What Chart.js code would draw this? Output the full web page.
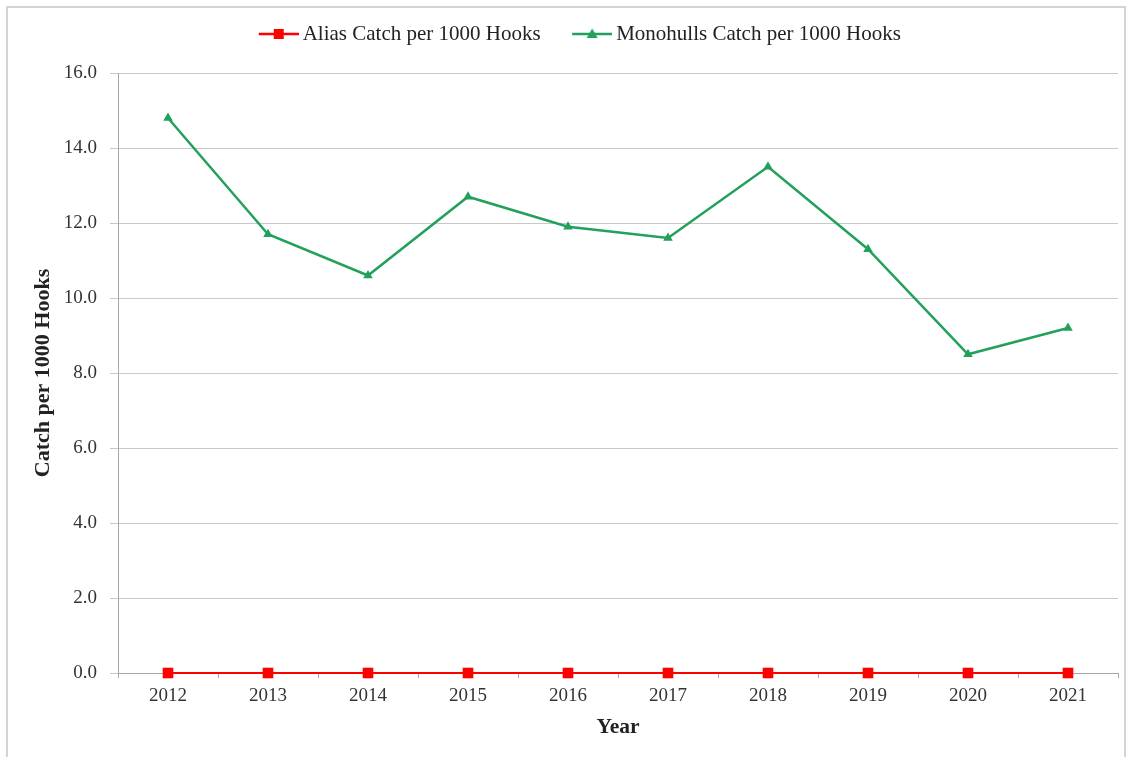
<!DOCTYPE html>
<html>
<head>
<meta charset="utf-8">
<script src="https://cdn.jsdelivr.net/npm/chart.js@4.4.1/dist/chart.umd.min.js"></script>
<style>
  html, body { margin: 0; padding: 0; background: #ffffff; }
  #wrap { position: relative; width: 1130px; height: 757px; overflow: hidden; background: #fff; }
  #frame { position: absolute; left: 6px; top: 6px; width: 1120px; height: 800px; border: 2px solid #d4d4d4; box-sizing: border-box; }
  #c { position: absolute; left: 0; top: 0; }
</style>
</head>
<body>
<div id="wrap">
  <div id="frame"></div>
  <canvas id="c" width="1130" height="757"></canvas>
</div>
<script>
// ---- data ----
const years = ['2012', '2013', '2014', '2015', '2016', '2017', '2018', '2019', '2020', '2021'];
const aliasCatch = [0, 0, 0, 0, 0, 0, 0, 0, 0, 0];
const monohullsCatch = [14.8, 11.7, 10.6, 12.7, 11.9, 11.6, 13.5, 11.3, 8.5, 9.2];
const seriesNames = ['Alias Catch per 1000 Hooks', 'Monohulls Catch per 1000 Hooks'];
const yTicks = [0, 2, 4, 6, 8, 10, 12, 14, 16];

const RED = '#ff0000';
const GREEN = '#22a05c';
const FONT = "'Liberation Serif', 'Times New Roman', serif";

const BOX_W = 55;
function legendImage(color, shape) {
  const W = BOX_W + 13, H = 16;
  const cv = document.createElement('canvas');
  cv.width = W; cv.height = H;
  const ctx = cv.getContext('2d');
  ctx.strokeStyle = color; ctx.lineWidth = 2.5;
  ctx.beginPath(); ctx.moveTo(W - 40, H / 2); ctx.lineTo(W, H / 2); ctx.stroke();
  ctx.fillStyle = color;
  const cx = W - 20, cy = H / 2;
  if (shape === 'rect') {
    ctx.fillRect(cx - 5, cy - 5, 10, 10);
  } else {
    ctx.beginPath();
    ctx.moveTo(cx, cy - 5.5); ctx.lineTo(cx + 5.5, cy + 4); ctx.lineTo(cx - 5.5, cy + 4);
    ctx.closePath(); ctx.fill();
  }
  return cv;
}
const legendImgs = [legendImage(RED, 'rect'), legendImage(GREEN, 'triangle')];

new Chart(document.getElementById('c'), {
  type: 'line',
  data: {
    labels: years,
    datasets: [
      {
        label: seriesNames[0],
        data: aliasCatch,
        borderColor: RED,
        backgroundColor: RED,
        borderWidth: 2,
        pointStyle: 'rect',
        pointRadius: 7.5,
        pointBorderWidth: 0,
        tension: 0,
        clip: false
      },
      {
        label: seriesNames[1],
        data: monohullsCatch,
        borderColor: GREEN,
        backgroundColor: GREEN,
        borderWidth: 2.5,
        pointStyle: 'triangle',
        pointRadius: 5.5,
        pointBorderWidth: 0,
        tension: 0,
        clip: false
      }
    ]
  },
  options: {
    responsive: false,
    animation: false,
    devicePixelRatio: 1,
    layout: { padding: { top: 13.5, left: 20, right: 12, bottom: 0 } },
    plugins: {
      legend: {
        position: 'top',
        labels: {
          font: { family: FONT, size: 21 },
          color: '#222',
          padding: 10,
          usePointStyle: true,
          pointStyleWidth: BOX_W,
          generateLabels: (chart) => chart.data.datasets.map((ds, i) => ({
            text: ds.label,
            datasetIndex: i,
            pointStyle: legendImgs[i],
            fillStyle: ds.backgroundColor,
            strokeStyle: ds.borderColor,
            lineWidth: 0,
            hidden: false,
            fontColor: '#222'
          }))
        }
      },
      title: {
        display: true,
        text: '',
        weight: 500,
        font: { size: 10 },
        padding: { top: 6.5, bottom: 0 }
      },
      tooltip: { enabled: false }
    },
    scales: {
      x: {
        offset: true,
        grid: { offset: true, drawOnChartArea: false, tickLength: 5, color: '#a6a6a6' },
        border: { color: '#a6a6a6', width: 1 },
        ticks: { font: { family: FONT, size: 19 }, color: '#333', padding: 7 },
        title: { display: true, text: 'Year', font: { family: FONT, size: 21.5, weight: 'bold' }, color: '#222', padding: { top: 0, bottom: 17 } },
        afterFit: (s) => { s.height = 84; }
      },
      y: {
        min: yTicks[0],
        max: yTicks[yTicks.length - 1],
        afterBuildTicks: (s) => { s.ticks = yTicks.map(v => ({ value: v })); },
        grid: { color: '#c8c8c8', tickLength: 8, lineWidth: 1 },
        border: { color: '#a6a6a6', width: 1 },
        ticks: { font: { family: FONT, size: 19 }, color: '#333', padding: 13, callback: (v) => Number(v).toFixed(1) },
        title: { display: true, text: 'Catch per 1000 Hooks', font: { family: FONT, size: 22, weight: 'bold' }, color: '#222', padding: { top: 10, bottom: 0 } },
        afterFit: (s) => { s.width = 98; }
      }
    }
  }
});
</script>
</body>
</html>
